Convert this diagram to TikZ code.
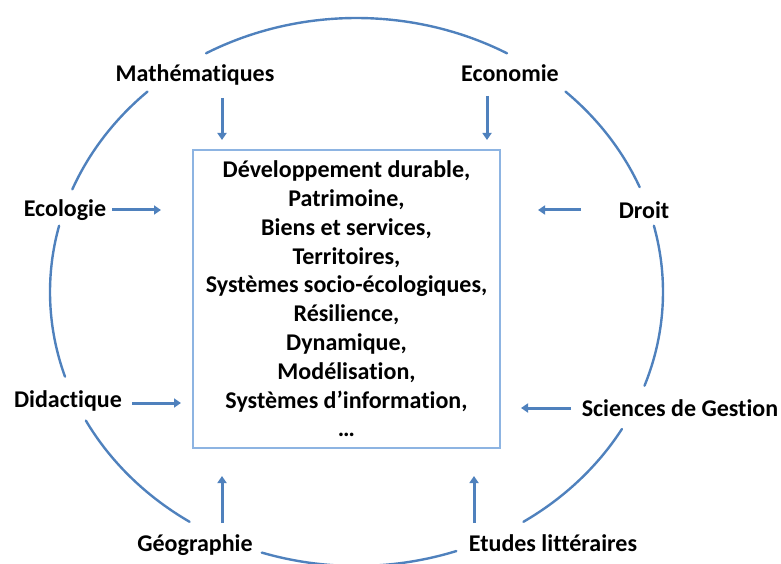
\documentclass[tikz,border=0pt]{standalone}
\usepackage{fontspec}
\setmainfont{Carlito}[Ligatures={NoCommon}, RawFeature={-liga}]
\usetikzlibrary{arrows.meta}
\definecolor{ringblue}{RGB}{79,129,189}
\definecolor{boxblue}{RGB}{141,180,226}
\begin{document}
\begin{tikzpicture}[x=1bp,y=-1bp,
  lbl/.style={font=\fontsize{24bp}{29bp}\selectfont\bfseries, inner sep=0pt},
  ring/.style={draw=ringblue, line width=2.4bp, line cap=round},
  arr/.style={draw=ringblue, line width=3bp, -{Triangle[length=7bp,width=9bp]}},
  topicbox/.style={draw=boxblue, line width=1.2bp, minimum width=307bp,
    minimum height=298bp, align=center, inner sep=0pt,
    font=\fontsize{24bp}{28.8bp}\selectfont\bfseries}]
\useasboundingbox (0,0) rectangle (781,564);

% central box with the shared themes
\node[topicbox] (box) at (346.5,299) {Développement durable,\\
Patrimoine,\\
Biens et services,\\
Territoires,\\
Systèmes socio-écologiques,\\
Résilience,\\
Dynamique,\\
Modélisation,\\
Systèmes d’information,\\
\dots};

% disciplines around the ring
\node[lbl] (math)  at (195,75)  {Mathématiques};
\node[lbl] (econ)  at (510,73)  {Economie};
\node[lbl] (ecol)  at (65,210)  {Ecologie};
\node[lbl] (droit) at (644,210) {Droit};
\node[lbl] (didac) at (68,401)  {Didactique};
\node[lbl] (gest)  at (680,408) {Sciences de Gestion};
\node[lbl] (geo)   at (195,545) {Géographie};
\node[lbl] (lit)   at (553,543) {Etudes littéraires};

% ring, broken where the labels sit
\foreach \s/\e in {60.6/119.4, 133/158, 166/198, 208/237, 252/289, 303/330, 340/374, 22.5/47}
  \draw[ring] plot[domain=\s:\e, samples=50, smooth]
    ({356.5+306.5*cos(\x)}, {292-274*sin(\x)});

% arrow ends
\coordinate (mathA) at (222,98);  \coordinate (mathB) at (222,140);
\coordinate (econA) at (487,96);  \coordinate (econB) at (487,140);
\coordinate (ecolA) at (112,210); \coordinate (ecolB) at (161,210);
\coordinate (droitA) at (581,210); \coordinate (droitB) at (538,210);
\coordinate (didacA) at (132,403); \coordinate (didacB) at (181,403);
\coordinate (gestA) at (571,408); \coordinate (gestB) at (521,408);
\coordinate (geoA) at (222,523); \coordinate (geoB) at (222,476);
\coordinate (litA) at (474,523); \coordinate (litB) at (474,476);

\foreach \a in {math,econ,ecol,droit,didac,gest,geo,lit}
  \draw[arr] (\a A) -- (\a B);
\end{tikzpicture}
\end{document}
